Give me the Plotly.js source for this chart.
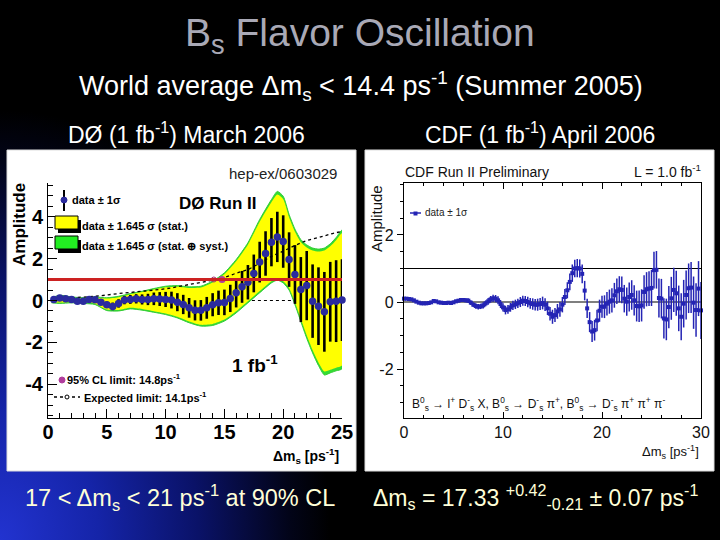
<!DOCTYPE html>
<html>
<head>
<meta charset="utf-8">
<script src="https://cdn.plot.ly/plotly-3.0.1.min.js"></script>
<style>
html,body{margin:0;padding:0;width:720px;height:540px;overflow:hidden;
background:#000 radial-gradient(ellipse 330px 430px at 0% 100%, #2233d0 0%, #1524a8 30%, #0a1268 60%, #020418 88%, #000 100%);}
#chart{width:720px;height:540px;}
</style>
</head>
<body>
<div id="chart"></div>
<script>
// ---------------- DØ data (hep-ex/0603029) ----------------
const d0_x = [0.5,1,1.5,2,2.5,3,3.5,4,4.5,5,5.5,6,6.5,7,7.5,8,8.5,9,9.5,10,
  10.5,11,11.5,12,12.5,13,13.5,14,14.5,15,15.5,16,16.5,17,17.5,18,18.5,19,19.5,20,
  20.5,21,21.5,22,22.5,23,23.5,24,24.5,25];
const d0_amp = [0.05,0.12,0.08,0.05,-0.03,-0.03,0.05,0.04,-0.08,-0.2,-0.28,-0.14,0.02,0.05,0.08,0.05,0.05,0.08,0.07,0.05,
  0.02,-0.08,-0.19,-0.35,-0.47,-0.47,-0.35,-0.2,-0.11,-0.09,0.1,0.37,0.65,0.87,1.29,1.83,2.24,2.78,3.03,2.81,
  1.95,1.24,0.52,0.71,-0.03,-0.27,-0.54,-0.06,-0.03,0.02];
const d0_sigma = [0.07,0.07,0.07,0.07,0.08,0.08,0.09,0.09,0.12,0.15,0.18,0.2,0.2,0.21,0.22,0.24,0.27,0.3,0.33,0.36,
  0.4,0.43,0.46,0.47,0.48,0.49,0.52,0.55,0.58,0.61,0.65,0.7,0.76,0.82,0.9,0.97,1.06,1.15,1.2,1.25,
  1.3,1.4,1.55,1.65,1.75,1.85,1.9,1.9,1.95,1.95];
// 1.645 sigma bands
const band_x = [0.3,1,2,3,4,5,6,7,8,9,10,11,12,13,14,15,16,17,18,19,19.5,20,20.5,21,21.5,22,22.5,23,23.5,24,24.5,25];
const green_hi = [0.13,0.25,0.17,0.13,0.17,0.13,0.2,0.33,0.44,0.57,0.68,0.71,0.65,0.68,0.92,1.32,1.95,2.75,3.86,4.81,5.2,4.97,4.1,3.4,2.9,2.65,2.5,2.45,2.5,2.7,3.0,3.35];
const yellow_hi = [0.1,0.21,0.13,0.09,0.13,0.09,0.16,0.29,0.4,0.52,0.63,0.66,0.6,0.62,0.86,1.25,1.87,2.66,3.75,4.68,5.05,4.83,3.97,3.28,2.78,2.53,2.38,2.33,2.38,2.58,2.87,3.2];
const green_lo = [-0.11,-0.14,-0.11,-0.14,-0.19,-0.48,-0.5,-0.4,-0.46,-0.56,-0.67,-0.83,-1.06,-1.22,-1.19,-0.98,-0.59,-0.11,0.37,0.84,0.97,0.84,0.5,-0.2,-1.0,-1.8,-2.5,-3.1,-3.55,-3.45,-3.35,-3.25];
const yellow_lo = [-0.07,-0.1,-0.07,-0.1,-0.15,-0.43,-0.45,-0.35,-0.41,-0.51,-0.62,-0.78,-1.0,-1.16,-1.12,-0.91,-0.51,-0.03,0.45,0.92,1.05,0.92,0.6,-0.08,-0.87,-1.66,-2.36,-2.95,-3.38,-3.3,-3.2,-3.1];
// expected limit curve
const exp_x = [0.5,2,4,6,8,10,12,14,15,16,17,18,19,20,21,22,23,24,25];
const exp_amp = [0.05,0.13,0.2,0.33,0.44,0.56,0.76,0.97,1.1,1.3,1.48,1.78,2.1,2.35,2.62,2.85,3.0,3.16,3.3];
const d0_limit95 = 14.8, d0_expected = 14.1, ampRef = 1.0, d0_zeroDotStart = 15.3;
const d0_xticks = [0,5,10,15,20,25], d0_yticks = [-4,-2,0,2,4];
const d0_yticktext = ['-4','-2','0','2','4'];

// ---------------- CDF data ----------------
const cdf_x = [0,0.25,0.5,0.75,1,1.25,1.5,1.75,2,2.25,2.5,2.75,3,3.25,3.5,3.75,4,4.25,4.5,4.75,
  5,5.25,5.5,5.75,6,6.25,6.5,6.75,7,7.25,7.5,7.75,8,8.25,8.5,8.75,9,9.25,9.5,9.75,
  10,10.25,10.5,10.75,11,11.25,11.5,11.75,12,12.25,12.5,12.75,13,13.25,13.5,13.75,14,14.25,14.5,14.75,
  15,15.25,15.5,15.75,16,16.25,16.5,16.75,17,17.25,17.5,17.75,18,18.25,18.5,18.75,19,19.25,19.5,19.75,
  20,20.25,20.5,20.75,21,21.25,21.5,21.75,22,22.25,22.5,22.75,23,23.25,23.5,23.75,24,24.25,24.5,24.75,
  25,25.25,25.5,25.75,26,26.25,26.5,26.75,27,27.25,27.5,27.75,28,28.25,28.5,28.75,29,29.25,29.5,29.75,30];
const cdf_amp = [0.10,0.10,0.09,0.08, 0.05,0.01,-0.02,-0.04, -0.04,-0.04,-0.03,-0.01, 0.03,0.02,-0.01,-0.02, -0.03,-0.03,-0.02,-0.03,
  -0.01,0.02,0.04,0.06, 0.06,0.05,0.04,-0.02, -0.08,-0.12,-0.14,-0.13, -0.10,-0.04,0.02,0.08, 0.11,0.10,0.05,-0.06,
  -0.16,-0.24,-0.22,-0.16, -0.10,-0.07,-0.04,0.00, 0.04,0.03,0.00,-0.04, -0.06,-0.08,-0.08,-0.06, -0.03,-0.08,-0.19,-0.35,
  -0.44,-0.39,-0.28,-0.22, -0.08,0.15,0.35,0.60, 0.86,1.00,1.01,1.00, 0.84,0.34,-0.19,-0.60, -0.88,-0.84,-0.55,-0.26,
  -0.14,-0.14,-0.05,0.01, 0.05,0.20,0.32,0.38, 0.36,0.10,0.01,0.15, 0.21,0.05,-0.12,-0.13, -0.10,0.30,0.38,0.40,
  0.42,0.95,0.96,0.12, 0.10,-0.49,-0.52,-0.15, 0.11,0.36,0.26,-0.19, -0.44,-0.05,0.21,0.41, 0.43,-0.02,-0.24,0.40, -0.25];
const cdf_sigma = [0.04,0.04,0.04,0.04,0.04,0.04,0.04,0.04,0.04,0.04,0.04,0.04,0.04,0.04,0.04,0.04,0.04,0.04,0.04,0.04,
  0.05,0.05,0.05,0.06,0.06,0.06,0.07,0.07,0.07,0.08,0.08,0.08,0.09,0.09,0.1,0.1,
  0.11,0.11,0.12,0.12,0.12,0.13,0.13,0.13,0.14,0.14,0.14,0.15,
  0.15,0.15,0.16,0.16,0.17,0.17,0.18,0.18,
  0.19,0.19,0.2,0.2,0.21,0.21,0.22,0.22,
  0.23,0.24,0.24,0.25,0.26,0.26,0.27,0.27,
  0.28,0.29,0.29,0.3,0.31,0.31,0.32,0.33,
  0.33,0.34,0.35,0.36,0.36,0.37,0.38,0.39,
  0.4,0.41,0.42,0.43,0.44,0.45,0.46,0.47,
  0.48,0.5,0.51,0.52,0.54,0.55,0.56,0.58,
  0.59,0.6,0.62,0.63,0.64,0.66,0.67,0.68,
  0.7,0.71,0.73,0.74,0.76,0.78,0.8,0.82,0.85];
const cdf_xticks = [0,10,20,30], cdf_yticks = [-2,0,2];
const cdf_yticktext = ['-2','0','2'];

// ---------------- helpers ----------------
const W = 720, H = 540;
const px = x => x / W, py = y => 1 - y / H;
const SANS = 'Liberation Sans, Arial, sans-serif';
const NAVY = '#2b2b9e', CDFBLUE = '#2424b4';

function polyX(xs){ return xs.concat(xs.slice().reverse()); }
function polyY(hi, lo){ return hi.concat(lo.slice().reverse()); }

const traces = [
  {x: polyX(band_x), y: polyY(green_hi, green_lo), xaxis:'x', yaxis:'y', type:'scatter', mode:'lines',
   fill:'toself', fillcolor:'#33dd33', line:{color:'#33cc33', width:1, shape:'spline', smoothing:0.6}, hoverinfo:'skip'},
  {x: polyX(band_x), y: polyY(yellow_hi, yellow_lo), xaxis:'x', yaxis:'y', type:'scatter', mode:'lines',
   fill:'toself', fillcolor:'#ffff00', line:{color:'#ffff00', width:0, shape:'spline', smoothing:0.6}, hoverinfo:'skip'},
  {x: exp_x, y: exp_amp, xaxis:'x', yaxis:'y', type:'scatter', mode:'lines',
   line:{color:'#000', width:1.3, dash:'dot', shape:'spline'}, hoverinfo:'skip'},
  {x: d0_x, y: d0_amp, xaxis:'x', yaxis:'y', type:'scatter', mode:'markers',
   marker:{color:NAVY, size:7.5, symbol:'circle'},
   error_y:{type:'data', array:d0_sigma, visible:true, color:'#000', thickness:2.6, width:0}, cliponaxis:false},
  {x: [d0_expected], y: [ampRef], xaxis:'x', yaxis:'y', type:'scatter', mode:'markers',
   marker:{color:'rgba(0,0,0,0)', size:5, line:{color:'#a03070', width:1}}},
  {x: [d0_limit95], y: [ampRef], xaxis:'x', yaxis:'y', type:'scatter', mode:'markers',
   marker:{color:'#b03c9c', size:7}},
  {x: cdf_x, y: cdf_amp, xaxis:'x2', yaxis:'y2', type:'scatter', mode:'markers',
   marker:{color:CDFBLUE, size:4, symbol:'square'},
   error_y:{type:'data', array:cdf_sigma, visible:true, color:CDFBLUE, thickness:1.5, width:0}, cliponaxis:false}
];

const d0Dom = {x:[px(48), px(342)], y:[py(418), py(183)]};
const cdfDom = {x:[px(404), px(701)], y:[py(418), py(183)]};

const ann = [];
function A(text, x, y, o){ ann.push(Object.assign({text, x:px(x), y:py(y), xref:'paper', yref:'paper',
  showarrow:false, xanchor:'center', yanchor:'middle', font:{family:SANS, size:14, color:'#000'}}, o||{})); }

// slide texts
A('B<sub>s</sub> Flavor Oscillation', 360, 36, {font:{family:SANS, size:39, color:'#a9a9b6'}});
A('World average Δm<sub>s</sub> &lt; 14.4 ps<sup>-1</sup> (Summer 2005)', 361, 86, {font:{family:SANS, size:27, color:'#fff'}});
A('DØ (1 fb<sup>-1</sup>) March 2006', 186, 133, {font:{family:SANS, size:23, color:'#fff'}});
A('CDF (1 fb<sup>-1</sup>) April 2006', 540, 133, {font:{family:SANS, size:23, color:'#fff'}});
A('17 &lt; Δm<sub>s</sub> &lt; 21 ps<sup>-1</sup> at 90% CL', 180, 497, {font:{family:SANS, size:23.5, color:'#ffffd8'}});
A('Δm<sub>s</sub> = 17.33 <sup>+0.42</sup><sub>-0.21</sub> ± 0.07 ps<sup>-1</sup>', 535, 497, {font:{family:SANS, size:23, color:'#ffffd8'}});

// DØ panel texts
const B = (s) => ({family:SANS, size:s, color:'#000', weight:'bold'});
A('hep-ex/0603029', 227, 173, {xanchor:'left', font:{family:SANS, size:15, color:'#222'}});
A('Amplitude', 19, 225, {textangle:-90, font:B(17)});
A('DØ Run II', 217, 203, {font:B(17)});
A('data ± 1σ', 70, 200, {xanchor:'left', font:B(11)});
A('data ± 1.645 σ (stat.)', 80, 226, {xanchor:'left', font:B(11)});
A('data ± 1.645 σ (stat. ⊕ syst.)', 80, 246, {xanchor:'left', font:B(11)});
A('1 fb<sup>-1</sup>', 255, 364, {font:B(19)});
A('95% CL limit: 14.8ps<sup>-1</sup>', 65, 379, {xanchor:'left', font:B(11)});
A('Expected limit: 14.1ps<sup>-1</sup>', 82, 397, {xanchor:'left', font:B(11)});
A('Δm<sub>s</sub> [ps<sup>-1</sup>]', 341, 456, {xanchor:'right', font:B(14)});

// CDF panel texts
A('CDF Run II Preliminary', 403, 172, {xanchor:'left', font:{family:SANS, size:14, color:'#111'}});
A('L = 1.0 fb<sup>-1</sup>', 703, 171, {xanchor:'right', font:{family:SANS, size:14, color:'#111'}});
A('data ± 1σ', 423, 213, {xanchor:'left', font:{family:SANS, size:10, color:'#222'}});
A('Amplitude', 376, 219, {textangle:-90, font:{family:SANS, size:15, color:'#111'}});
A('B<sup>0</sup><sub>s</sub> → l<sup>+</sup> D<sup>-</sup><sub>s</sub> X, B<sup>0</sup><sub>s</sub> → D<sup>-</sup><sub>s</sub> π<sup>+</sup>, B<sup>0</sup><sub>s</sub> → D<sup>-</sup><sub>s</sub> π<sup>+</sup> π<sup>+</sup> π<sup>-</sup>',
  410, 404, {xanchor:'left', font:{family:SANS, size:12, color:'#111'}});
A('Δm<sub>s</sub> [ps<sup>-1</sup>]', 701, 452, {xanchor:'right', font:{family:SANS, size:13, color:'#111'}});

function R(x0,y0,x1,y1,fill,line,lw,layer){ return {type:'rect', xref:'paper', yref:'paper',
  x0:px(x0), x1:px(x1), y0:py(y0), y1:py(y1), fillcolor:fill, line:{color:line||fill, width:lw||0}, layer:layer||'above'}; }
function L(x0,y0,x1,y1,color,w,dash){ return {type:'line', xref:'paper', yref:'paper',
  x0:px(x0), x1:px(x1), y0:py(y0), y1:py(y1), line:{color, width:w, dash:dash||'solid'}}; }
function C(x,y,r,fill,line){ return {type:'circle', xref:'paper', yref:'paper',
  x0:px(x-r), x1:px(x+r), y0:py(y+r), y1:py(y-r), fillcolor:fill, line:{color:line||fill, width:1}}; }

const shapes = [
  // white panels
  R(7,150,356,471,'#fff','#ddd',1,'below'),
  R(365,150,714,471,'#fff','#ddd',1,'below'),
  // DØ reference lines
  {type:'line', xref:'x', yref:'y', x0:d0_x[0]-0.5, x1:d0_x[d0_x.length-1], y0:ampRef, y1:ampRef, line:{color:'#cc2222', width:3}, layer:'above'},
  {type:'line', xref:'x', yref:'y', x0:d0_zeroDotStart, x1:d0_x[d0_x.length-1], y0:0, y1:0, line:{color:'#000', width:1, dash:'dot'}, layer:'below'},
  // CDF reference lines
  {type:'line', xref:'x2', yref:'y2', x0:cdf_x[0], x1:cdf_x[cdf_x.length-1], y0:0, y1:0, line:{color:'#000', width:1.2}, layer:'below'},
  {type:'line', xref:'x2', yref:'y2', x0:cdf_x[0], x1:cdf_x[cdf_x.length-1], y0:ampRef, y1:ampRef, line:{color:'#000', width:1.2}, layer:'below'},
  // DØ legend keys
  L(64,190,64,211,'#000',2),
  C(64,200,3,NAVY),
  R(58,220,81,233,'#000'),
  R(55,216,78,229,'#ffff00','#000',1),
  R(58,240,81,253,'#000'),
  R(55,236,78,249,'#22ee22','#000',1),
  C(62,380,3,'#b03c9c'),
  L(54,397,80,397,'#000',1.5,'dot'),
  C(67,397,2,'#fff','#000'),
  // CDF legend key
  L(410,213,421,213,CDFBLUE,1.5),
  R(413.5,211.5,417.5,215.5,CDFBLUE)
];

const layout = {
  width:W, height:H, margin:{l:0,r:0,t:0,b:0},
  paper_bgcolor:'rgba(0,0,0,0)', plot_bgcolor:'#fff', showlegend:false,
  xaxis:{domain:d0Dom.x, anchor:'y', range:[0,25], tickvals:d0_xticks, ticks:'inside', ticklen:9, tickwidth:1, tickcolor:'#000',
    showline:true, linecolor:'#000', linewidth:1, showgrid:false, zeroline:false, mirror:false, ticklabelstandoff:-4,
    tickfont:{family:SANS, size:20, color:'#000', weight:'bold'},
    minor:{dtick:1, ticks:'inside', ticklen:5, tickcolor:'#000', showgrid:false}},
  yaxis:{domain:d0Dom.y, anchor:'x', range:[-5.6,5.6], tickvals:d0_yticks, ticktext:d0_yticktext, ticks:'inside', ticklen:9, tickwidth:1, tickcolor:'#000',
    showline:true, linecolor:'#000', linewidth:1, showgrid:false, zeroline:false, mirror:false,
    tickfont:{family:SANS, size:20, color:'#000', weight:'bold'},
    minor:{dtick:0.5, ticks:'inside', ticklen:5, tickcolor:'#000', showgrid:false}},
  xaxis2:{domain:cdfDom.x, anchor:'y2', range:[0,30], tickvals:cdf_xticks, ticks:'inside', ticklen:6, tickwidth:1, tickcolor:'#000',
    showline:true, linecolor:'#000', linewidth:1.2, showgrid:false, zeroline:false, mirror:'ticks',
    tickfont:{family:SANS, size:16, color:'#111'},
    minor:{dtick:2, ticks:'inside', ticklen:3, tickcolor:'#000', showgrid:false}},
  yaxis2:{domain:cdfDom.y, anchor:'x2', range:[-3.46,3.55], tickvals:cdf_yticks, ticktext:cdf_yticktext, ticks:'outside', ticklen:6, tickwidth:1, tickcolor:'#000',
    showline:true, linecolor:'#000', linewidth:1.2, showgrid:false, zeroline:false, mirror:true,
    tickfont:{family:SANS, size:16, color:'#111'},
    minor:{dtick:0.5, ticks:'outside', ticklen:3, tickcolor:'#000', showgrid:false}},
  annotations: ann,
  shapes: shapes
};

Plotly.newPlot('chart', traces, layout, {displayModeBar:false, staticPlot:true});
</script>
</body>
</html>
